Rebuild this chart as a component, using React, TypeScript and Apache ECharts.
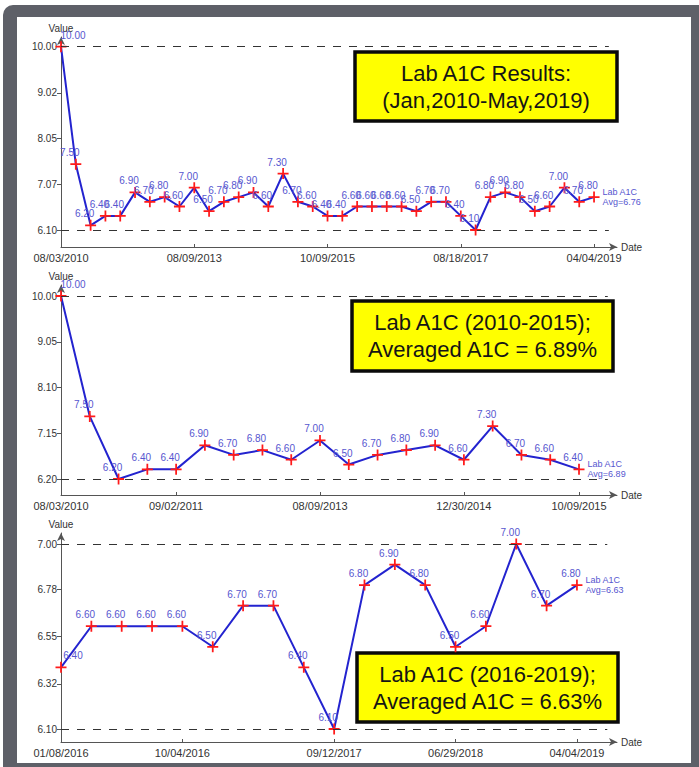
import React, { useEffect, useRef } from 'react';
import * as echarts from 'echarts';

// ---- data ----
const values2010to2015 = [10.0, 7.5, 6.2, 6.4, 6.4, 6.9, 6.7, 6.8, 6.6, 7.0, 6.5, 6.7, 6.8, 6.9, 6.6, 7.3, 6.7, 6.6, 6.4];
const values2016to2019 = [6.4, 6.6, 6.6, 6.6, 6.6, 6.5, 6.7, 6.7, 6.4, 6.1, 6.8, 6.9, 6.8, 6.5, 6.6, 7.0, 6.7, 6.8];
const valuesAll = [...values2010to2015, ...values2016to2019];

const allTickIndex = [0, 9, 18, 27, 36];
const allTickDates = ['08/03/2010', '08/09/2013', '10/09/2015', '08/18/2017', '04/04/2019'];
const earlyTickIndex = [0, 4, 9, 14, 18];
const earlyTickDates = ['08/03/2010', '09/02/2011', '08/09/2013', '12/30/2014', '10/09/2015'];
const lateTickIndex = [0, 4, 9, 13, 17];
const lateTickDates = ['01/08/2016', '10/04/2016', '09/12/2017', '06/29/2018', '04/04/2019'];

const allYTicks = ['6.10', '7.07', '8.05', '9.02', '10.00'];
const earlyYTicks = ['6.20', '7.15', '8.10', '9.05', '10.00'];
const lateYTicks = ['6.10', '6.32', '6.55', '6.78', '7.00'];

const boxTitleAll = 'Lab A1C Results:\n(Jan,2010-May,2019)';
const boxTitleEarly = 'Lab A1C (2010-2015);';
const boxTitleLate = 'Lab A1C (2016-2019);';

const mean = (a: number[]) => (a.reduce((s, v) => s + v, 0) / a.length).toFixed(2);

const FONT = 'Liberation Sans';
const LABEL_COLOR = '#5656cf';
const PLUS = 'path://M4.2,0H5.8V4.2H10V5.8H5.8V10H4.2V5.8H0V4.2H4.2Z';

const panels = [
  {
    values: valuesAll, tickIdx: allTickIndex, tickDates: allTickDates, yTicks: allYTicks,
    top: 37, height: 210, padTop: 9.7, padBottom: 17, xMax: 37.55,
    box: { x: 355, y: 52, w: 262, h: 69 },
    text: boxTitleAll,
  },
  {
    values: values2010to2015, tickIdx: earlyTickIndex, tickDates: earlyTickDates, yTicks: earlyYTicks,
    top: 285, height: 210, padTop: 11, padBottom: 16, xMax: 19.32,
    box: { x: 352, y: 301, w: 261, h: 70 },
    text: `${boxTitleEarly}\nAveraged A1C = ${mean(values2010to2015)}%`,
  },
  {
    values: values2016to2019, tickIdx: lateTickIndex, tickDates: lateTickDates, yTicks: lateYTicks,
    top: 533, height: 209, padTop: 11, padBottom: 13, xMax: 18.32,
    box: { x: 357, y: 653, w: 261, h: 69 },
    text: `${boxTitleLate}\nAveraged A1C = ${mean(values2016to2019)}%`,
  },
];

function buildOption() {
  const grid: any[] = [];
  const xAxis: any[] = [];
  const yAxis: any[] = [];
  const series: any[] = [];
  const graphic: any[] = [];

  panels.forEach((p, i) => {
    const yNums = p.yTicks.map(Number);
    const lo = yNums[0];
    const hi = yNums[yNums.length - 1];
    const unit = (p.height - p.padTop - p.padBottom) / (hi - lo);
    const yMax = hi + p.padTop / unit;
    const yMin = lo - p.padBottom / unit;
    const n = p.values.length;

    grid.push({ left: 61, top: p.top, width: 556, height: p.height });

    xAxis.push({
      type: 'value', gridIndex: i, min: 0, max: p.xMax,
      name: 'Date', nameLocation: 'end', nameGap: 4,
      nameTextStyle: { fontSize: 10, color: '#333', fontFamily: FONT },
      axisLine: { show: true, symbol: ['none', 'arrow'], symbolSize: [6, 8], lineStyle: { color: '#555', width: 1 } },
      axisTick: { show: true, inside: true, length: 3, customValues: p.tickIdx, lineStyle: { color: '#555' } },
      axisLabel: {
        show: true, customValues: p.tickIdx, fontSize: 11, color: '#333', margin: 5, fontFamily: FONT,
        formatter: (v: number) => p.tickDates[p.tickIdx.indexOf(Math.round(v))] ?? '',
      },
      splitLine: { show: false },
    });

    yAxis.push({
      type: 'value', gridIndex: i, min: yMin, max: yMax,
      name: 'Value', nameLocation: 'end', nameGap: 4,
      nameTextStyle: { fontSize: 10, color: '#333', fontFamily: FONT, align: 'center' },
      axisLine: { show: true, symbol: ['none', 'arrow'], symbolSize: [6, 8], lineStyle: { color: '#555', width: 1 } },
      axisTick: { show: true, length: 4, customValues: yNums, lineStyle: { color: '#555' } },
      axisLabel: {
        show: true, customValues: yNums, fontSize: 10, color: '#333', margin: 4, fontFamily: FONT,
        formatter: (v: number) => v.toFixed(2),
      },
      splitLine: { show: false },
    });

    series.push({
      type: 'line', xAxisIndex: i, yAxisIndex: i,
      data: p.values.map((v, k) => (k === 0
        ? { value: [k, v], label: { offset: [12, 0] } }
        : [k, v])),
      symbol: PLUS, symbolSize: 11,
      itemStyle: { color: '#ff1a1a' },
      lineStyle: { color: '#2323cf', width: 2 },
      label: {
        show: true, position: 'top', distance: 1, offset: [-6, 0],
        fontSize: 10, color: LABEL_COLOR, fontFamily: FONT,
        formatter: (prm: any) => Number(prm.value[1]).toFixed(2),
      },
      markLine: {
        silent: true, symbol: ['none', 'none'],
        label: { show: false },
        lineStyle: { type: [8, 8], color: '#333', width: 1 },
        data: [
          [{ coord: [0, hi] }, { coord: [n, hi] }],
          [{ coord: [0, lo] }, { coord: [n, lo] }],
        ],
      },
      markPoint: {
        silent: true, symbol: 'circle', symbolSize: 1,
        itemStyle: { color: 'rgba(0,0,0,0)' },
        label: {
          show: true, position: 'right', distance: 8, align: 'left',
          fontSize: 9, lineHeight: 10, color: LABEL_COLOR, fontFamily: FONT,
          formatter: `Lab A1C\nAvg=${mean(p.values)}`,
        },
        data: [{ coord: [n - 1, p.values[n - 1]] }],
      },
    });

    graphic.push({
      type: 'group', z: 100,
      children: [
        {
          type: 'rect',
          shape: { x: p.box.x, y: p.box.y, width: p.box.w, height: p.box.h },
          style: { fill: '#ffff00', stroke: '#0a0a0a', lineWidth: 3.5 },
        },
        {
          type: 'text',
          x: p.box.x + p.box.w / 2, y: p.box.y + p.box.h / 2,
          style: {
            text: p.text, fill: '#151515', fontSize: 22, fontFamily: FONT,
            align: 'center', verticalAlign: 'middle', lineHeight: 27,
          },
        },
      ],
    });
  });

  return {
    animation: false,
    textStyle: { fontFamily: FONT },
    grid, xAxis, yAxis, series, graphic,
  };
}

export default function App() {
  const ref = useRef<HTMLDivElement>(null);
  useEffect(() => {
    if (!ref.current) return;
    const chart = echarts.init(ref.current, undefined, { renderer: 'svg' });
    chart.setOption(buildOption() as any);
    return () => chart.dispose();
  }, []);
  return (
    <div style={{ position: 'absolute', left: 0, top: 0, width: 699, height: 767, background: '#fff', overflow: 'hidden' }}>
      <div style={{ position: 'absolute', left: 3, top: 5, width: 710, height: 780, borderRadius: 10, background: '#5e6068' }} />
      <div style={{ position: 'absolute', left: 17, top: 17, width: 674, height: 746, background: '#fff' }} />
      <div ref={ref} style={{ position: 'absolute', left: 0, top: 0, width: 699, height: 767 }} />
    </div>
  );
}
